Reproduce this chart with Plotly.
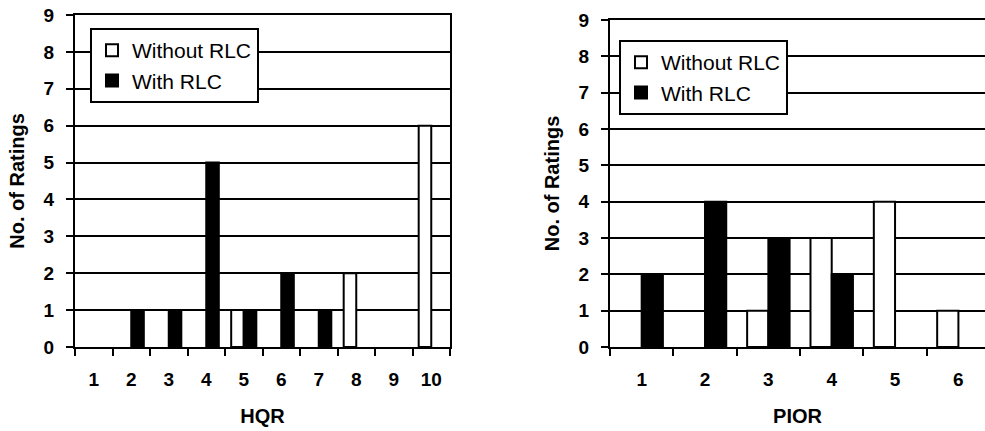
import plotly.graph_objects as go

# ---- data ----
hqr_cats = ["1", "2", "3", "4", "5", "6", "7", "8", "9", "10"]
hqr_without = [0, 0, 0, 0, 1, 0, 0, 2, 0, 6]
hqr_with = [0, 1, 1, 5, 1, 2, 1, 0, 0, 0]

pior_cats = ["1", "2", "3", "4", "5", "6"]
pior_without = [0, 0, 1, 3, 4, 1]
pior_with = [2, 4, 3, 2, 0, 0]

y_ticks = [0, 1, 2, 3, 4, 5, 6, 7, 8, 9]
series_names = ["Without RLC", "With RLC"]

# ---- layout constants ----
W, H = 985, 431
ML, MR, MT, MB = 75, 0, 15, 84
PW, PH = W - ML - MR, H - MT - MB
FONT = "Liberation Sans"
tick_font = dict(family=FONT, size=19, color="black", weight="bold")
title_font = dict(family=FONT, size=20, color="black", weight="bold")
legend_font = dict(family=FONT, size=21, color="black")

fig = go.Figure()

def nz(vals):
    # zero counts are drawn as no bar at all
    return [v if v else None for v in vals]

def add_pair(cats, without, with_, xa, ya, leg):
    fig.add_trace(go.Bar(
        x=cats, y=nz(without), name=series_names[0],
        marker=dict(color="white", line=dict(color="black", width=2)),
        xaxis=xa, yaxis=ya, legend=leg, legendgroup=leg + "a"))
    fig.add_trace(go.Bar(
        x=cats, y=nz(with_), name=series_names[1],
        marker=dict(color="black", line=dict(color="black", width=2)),
        xaxis=xa, yaxis=ya, legend=leg, legendgroup=leg + "b"))

add_pair(hqr_cats, hqr_without, hqr_with, "x", "y", "legend")
add_pair(pior_cats, pior_without, pior_with, "x2", "y2", "legend2")

def xaxis_cfg(domain, rng, anchor, title):
    return dict(
        domain=domain, type="category", range=rng, anchor=anchor,
        automargin=False,
        tickson="boundaries", ticks="outside", ticklen=7, tickwidth=2,
        tickcolor="black", showline=True, linecolor="black", linewidth=2,
        mirror=True, showgrid=False, tickfont=tick_font,
        ticklabelstandoff=14,
        title=dict(text=title, font=title_font, standoff=20),
        fixedrange=True,
    )

def yaxis_cfg(domain, anchor):
    return dict(
        domain=domain, range=[0, 9], anchor=anchor,
        automargin=False,
        tickvals=y_ticks, ticks="outside", ticklen=7, tickwidth=2,
        tickcolor="black", showline=True, linecolor="black", linewidth=2,
        mirror=True, showgrid=True, gridcolor="black", gridwidth=2,
        zeroline=False, tickfont=tick_font, ticklabelstandoff=8,
        title=dict(text="No. of Ratings", font=title_font, standoff=14),
        fixedrange=True,
    )

legend_common = dict(
    xref="paper", yref="paper", xanchor="left", yanchor="top",
    bgcolor="white", bordercolor="black", borderwidth=2,
    font=legend_font, tracegroupgap=0, itemsizing="constant",
    itemwidth=30,
)

def px_x(p):
    return (p - ML) / PW

def px_y(p):
    return (H - MB - p) / PH

fig.update_layout(
    width=W, height=H,
    margin=dict(l=ML, r=MR, t=MT, b=MB, autoexpand=False),
    paper_bgcolor="white", plot_bgcolor="white",
    barmode="group", bargap=0.33, bargroupgap=0,
    xaxis=xaxis_cfg([px_x(75), px_x(450)], [-0.5, 9.5], "y", "HQR"),
    yaxis=yaxis_cfg([px_y(347), px_y(15)], "x"),
    xaxis2=xaxis_cfg([px_x(610), 1.0], [-0.5, 5.42], "y2", "PIOR"),
    yaxis2=yaxis_cfg([px_y(347), px_y(20)], "x2"),
    legend=dict(x=px_x(90), y=px_y(28), **legend_common),
    legend2=dict(x=px_x(619), y=px_y(40), **legend_common),
)

fig.write_html("out.html", config={"displayModeBar": False},
               post_script="document.body.style.margin='0';")
